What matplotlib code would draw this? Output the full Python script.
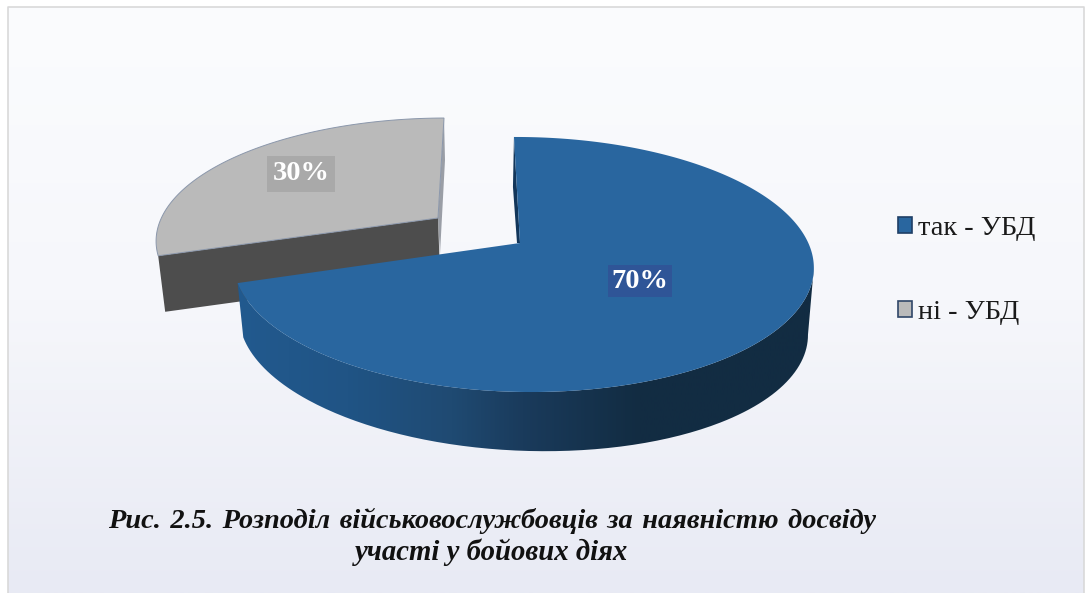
import matplotlib
matplotlib.use('Agg')
import matplotlib.pyplot as plt
import numpy as np
from matplotlib.colors import LinearSegmentedColormap
from matplotlib.patches import Patch, PathPatch, Polygon
from matplotlib.path import Path

plt.rcParams['font.family'] = ['Liberation Serif', 'DejaVu Serif']

# Data
categories = ['так - УБД', 'ні - УБД']
shares = [70, 30]
value_labels = ['70%', '30%']
caption = ['Рис.\u20042.5.\u2004Розподіл\u2004військовослужбовців\u2004за\u2004наявністю\u2004досвіду',
           'участі у бойових діях']

blue = '#29669f'
grey = '#bababa'

W, H = 1090, 593
fig = plt.figure(figsize=(W / 100, H / 100), dpi=100)
ax = fig.add_axes([0, 0, 1, 1])
ax.set_xlim(0, W)
ax.set_ylim(H, 0)
ax.axis('off')

# Panel background with a soft vertical gradient
bg = LinearSegmentedColormap.from_list('bg', ['#fbfcfe', '#f6f7fb', '#e8eaf4'])
ax.imshow(np.linspace(0, 1, 256).reshape(-1, 1), cmap=bg, aspect='auto',
          extent=[8, 1084, H, 7], zorder=0)
ax.plot([7.5, 7.5, 1084, 1084], [H, 7, 7, H], color='#d9d9d9', lw=1.2, zorder=1)


def rim(theta, cx, cy, sx=1.0, sy=1.0, skew=0.057):
    # Tilted disc: the near side of the pie is drawn larger than the far side
    theta = np.radians(theta)
    u, v = np.sin(theta), np.cos(theta)
    w = 1 + 0.1686 * v - 0.008 * u
    dy = -sy * 123.9 * v / w
    x = cx + sx * 286 * u / w + skew * dy
    return np.column_stack([x, cy + dy])


# Slice angles, clockwise from twelve o'clock
end_blue = 360 * shares[0] / sum(shares)

# Exploded grey slice
gx, gy = 438, 218
g_arc = rim(np.linspace(end_blue, 360, 120), gx, gy, 0.975, 0.943, skew=-0.06)
g_apex = np.array([gx, gy])
ax.add_patch(Polygon([g_arc[-1], g_arc[-1] + [1, 42], [gx + 2, gy + 36], g_apex],
                     fc='#9a9ea6', ec='none', zorder=2))
ax.add_patch(Polygon([g_arc[0], g_apex, [gx + 2, gy + 56], g_arc[0] + [7, 56]],
                     fc='#4d4d4d', ec='none', zorder=2))
ax.add_patch(Polygon(np.vstack([g_apex, g_arc]), fc=grey, ec='#8b97ab', lw=0.7, zorder=3))

# Blue slice: outer wall first, then the inner wall and the top face
bx, by = 520, 243
b_arc = rim(np.linspace(0, end_blue, 300), bx, by)
front = np.linspace(101, end_blue, 200)
lower = rim(front[::-1], bx, by, 0.98, 0.985)
lower[:, 1] += 61 + 0.022 * (lower[:, 0] - bx)
wall = np.vstack([rim(front, bx, by), lower])
wall_patch = PathPatch(Path(np.vstack([wall, wall[0]])), fc='none', ec='none', zorder=4)
ax.add_patch(wall_patch)
shade = LinearSegmentedColormap.from_list(
    'shade', [(0, '#225a8f'), (0.2, '#205485'), (0.38, '#1f4a72'), (0.5, '#1a3b5c'),
              (0.7, '#122c42'), (1, '#122c42')])
im = ax.imshow(np.linspace(0, 1, 256).reshape(1, -1), cmap=shade, aspect='auto',
               extent=[230, 815, H, 0], zorder=4)
im.set_clip_path(wall_patch)
ax.set_xlim(0, W)
ax.set_ylim(H, 0)

ax.add_patch(Polygon([b_arc[0], b_arc[0] + [-1, 50], [bx - 3, by], [bx, by]],
                     fc='#12365a', ec='none', zorder=4))
ax.add_patch(Polygon(np.vstack([[bx, by], b_arc]), fc=blue, ec='none', zorder=5))

# Value labels on coloured boxes
ax.text(640, 281, value_labels[0], color='white', fontsize=20.5, fontweight='bold', ha='center',
        va='center', zorder=6,
        bbox=dict(boxstyle='square,pad=0.14', fc='#2f5597', ec='none'))
ax.text(301, 174, value_labels[1], color='white', fontsize=20.5, fontweight='bold', ha='center',
        va='center', zorder=6,
        bbox=dict(boxstyle='square,pad=0.18', fc='#a9a9a9', ec='none'))

# Legend
handles = [Patch(fc=blue, ec='#1f3f66', lw=1.2), Patch(fc=grey, ec='#2f4668', lw=1.2)]
ax.legend(handles, categories, loc='center left', bbox_to_anchor=(884 / W, 1 - 270.5 / H),
          frameon=False, fontsize=20.4, handlelength=0.5, handleheight=0.5,
          handletextpad=0.2, labelspacing=2.08, borderpad=0, labelcolor='#1a1a1a')

# Caption below the pie
ax.text(492.5, 521, caption[0], fontsize=20.4, fontweight='bold', fontstyle='italic',
        ha='center', va='center', color='#111111', zorder=6)
ax.text(491.5, 552, caption[1], fontsize=20.7, fontweight='bold', fontstyle='italic',
        ha='center', va='center', color='#111111', zorder=6)

fig.savefig('out.png', dpi=100)
